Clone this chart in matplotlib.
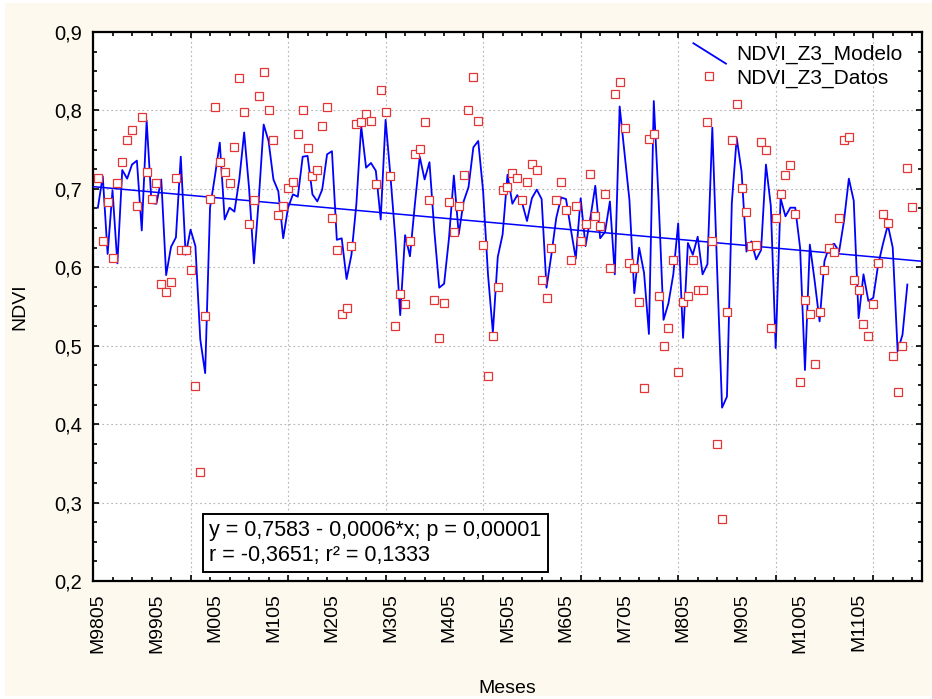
import numpy as np
import matplotlib.pyplot as plt
from matplotlib.patches import Rectangle
from matplotlib.lines import Line2D
from matplotlib.legend_handler import HandlerLine2D
from matplotlib.ticker import MultipleLocator, FuncFormatter
import matplotlib.transforms as mtransforms

plt.rcParams['font.family'] = ['Liberation Sans', 'DejaVu Sans']
plt.rcParams['font.size'] = 14

# --- NDVI mensual zona 3 (caso 1 = mayo 1998) ---
ndvi_datos = [
    0.714, 0.634, 0.683, 0.612, 0.708, 0.734, 0.762, 0.775, 0.678, 0.792,
    0.721, 0.687, 0.708, 0.579, 0.568, 0.581, 0.714, 0.622, 0.622, 0.596,
    0.449, 0.339, 0.538, 0.687, 0.805, 0.734, 0.721, 0.708, 0.754, 0.841,
    0.798, 0.655, 0.686, 0.818, 0.849, 0.800, 0.762, 0.667, 0.678, 0.701,
    0.709, 0.770, 0.800, 0.752, 0.716, 0.724, 0.780, 0.805, 0.663, 0.622,
    0.540, 0.548, 0.627, 0.783, 0.785, 0.795, 0.787, 0.706, 0.826, 0.798,
    0.716, 0.525, 0.566, 0.553, 0.634, 0.744, 0.751, 0.785, 0.686, 0.558,
    0.510, 0.555, 0.683, 0.645, 0.678, 0.718, 0.800, 0.843, 0.787, 0.629,
    0.461, 0.512, 0.575, 0.698, 0.703, 0.720, 0.714, 0.686, 0.709, 0.732,
    0.724, 0.584, 0.561, 0.625, 0.686, 0.709, 0.673, 0.609, 0.678, 0.634,
    0.655, 0.719, 0.666, 0.653, 0.693, 0.599, 0.821, 0.836, 0.778, 0.605,
    0.599, 0.556, 0.446, 0.764, 0.770, 0.563, 0.499, 0.523, 0.609, 0.466,
    0.556, 0.563, 0.609, 0.571, 0.571, 0.785, 0.634, 0.375, 0.279, 0.543,
    0.762, 0.808, 0.701, 0.670, 0.627, 0.629, 0.760, 0.749, 0.523, 0.663,
    0.693, 0.718, 0.731, 0.668, 0.454, 0.558, 0.540, 0.477, 0.543, 0.596,
    0.625, 0.619, 0.663, 0.762, 0.766, 0.584, 0.571, 0.528, 0.512, 0.553,
    0.606, 0.668, 0.657, 0.487, 0.441, 0.500, 0.727, 0.677,
]

ndvi_modelo = [
    0.676, 0.716, 0.617, 0.698, 0.605, 0.724, 0.713, 0.731, 0.736, 0.647,
    0.787, 0.682, 0.681, 0.712, 0.590, 0.626, 0.638, 0.741, 0.616, 0.648,
    0.627, 0.508, 0.465, 0.676, 0.716, 0.759, 0.661, 0.676, 0.671, 0.712,
    0.772, 0.701, 0.605, 0.687, 0.782, 0.761, 0.712, 0.697, 0.637, 0.676,
    0.693, 0.690, 0.741, 0.742, 0.693, 0.684, 0.699, 0.744, 0.748, 0.635,
    0.637, 0.585, 0.616, 0.680, 0.780, 0.727, 0.733, 0.723, 0.661, 0.788,
    0.716, 0.637, 0.539, 0.641, 0.614, 0.680, 0.741, 0.712, 0.734, 0.646,
    0.574, 0.579, 0.637, 0.717, 0.642, 0.684, 0.702, 0.753, 0.761, 0.697,
    0.591, 0.517, 0.613, 0.642, 0.718, 0.681, 0.692, 0.682, 0.659, 0.688,
    0.699, 0.687, 0.574, 0.616, 0.663, 0.689, 0.687, 0.648, 0.611, 0.688,
    0.627, 0.663, 0.704, 0.637, 0.645, 0.684, 0.591, 0.805, 0.746, 0.686,
    0.567, 0.625, 0.593, 0.515, 0.812, 0.684, 0.533, 0.554, 0.591, 0.656,
    0.510, 0.631, 0.616, 0.639, 0.591, 0.604, 0.778, 0.595, 0.421, 0.435,
    0.682, 0.765, 0.722, 0.620, 0.633, 0.610, 0.622, 0.731, 0.678, 0.497,
    0.688, 0.665, 0.676, 0.676, 0.625, 0.469, 0.629, 0.582, 0.531, 0.608,
    0.627, 0.630, 0.620, 0.659, 0.713, 0.685, 0.535, 0.591, 0.557, 0.561,
    0.603, 0.630, 0.654, 0.625, 0.493, 0.514, 0.578,
]

etiquetas_meses = ['M9805', 'M9905', 'M005', 'M105', 'M205', 'M305', 'M405',
                   'M505', 'M605', 'M705', 'M805', 'M905', 'M1005', 'M1105']
casos_etiquetas = [1, 13, 25, 37, 49, 61, 73, 85, 97, 109, 121, 133, 145, 157]

# ajuste lineal NDVI ~ x  (x = caso + 99)
b0 = 0.7583
b1 = -0.00056
x_desplaz = 99
r = -0.3651
r2 = 0.1333
p = 0.00001


def coma(v, dec):
    return f"{v:.{dec}f}".replace('.', ',')


class LineaDiagonal(HandlerLine2D):
    """muestra de la leyenda como trazo inclinado"""
    def create_artists(self, legend, orig_handle, xdescent, ydescent,
                       width, height, fontsize, trans):
        x0 = -xdescent - 0.1 * width
        x1 = -xdescent + 1.15 * width
        y0 = -ydescent + 1.15 * height
        y1 = -ydescent - 0.25 * height
        ln = Line2D([x0, x1], [y0, y1])
        self.update_prop(ln, orig_handle, legend)
        ln.set_marker('None')
        ln.set_transform(trans)
        return [ln]


casos_d = np.arange(1, len(ndvi_datos) + 1)
casos_m = np.arange(1, len(ndvi_modelo) + 1)

W, H = 932, 699
fig = plt.figure(figsize=(W / 100, H / 100), dpi=100, facecolor='white')
fig.patches.append(Rectangle((5 / W, 3 / H), 927 / W, 693 / H, transform=fig.transFigure,
                             facecolor='#fdf9ef', edgecolor='none', zorder=-10))

ax = fig.add_axes([93 / W, 1 - 581 / H, 829 / W, 549 / H])
ax.set_xlim(0, 170)
ax.set_ylim(0.2, 0.9)

x_rec = np.array([0, 170])
ax.plot(x_rec, b0 + b1 * (x_rec + x_desplaz), color='#0000ff', lw=1.1, zorder=3)
l_mod, = ax.plot(casos_m, ndvi_modelo, color='#0000ff', lw=1.3, zorder=4)
l_dat, = ax.plot(casos_d, ndvi_datos, ls='none', marker='s', ms=5.5, mfc='white',
                 mec='#e33535', mew=0.9, zorder=5)

ax.xaxis.set_major_locator(MultipleLocator(20))
ax.xaxis.set_minor_locator(MultipleLocator(4))
ax.yaxis.set_major_locator(MultipleLocator(0.1))
ax.yaxis.set_minor_locator(MultipleLocator(0.025))
ax.xaxis.set_major_formatter(FuncFormatter(lambda v, pos: ''))
ax.yaxis.set_major_formatter(FuncFormatter(lambda v, pos: coma(v, 1)))
ax.tick_params(which='both', direction='in', top=True, right=True, width=1.2)
ax.tick_params(which='major', length=4.5)
ax.tick_params(which='minor', length=3)
ax.tick_params(axis='y', pad=8, labelsize=14.5)
ax.grid(True, which='major', ls=(0, (1.5, 2.5)), color='#b4b4b4', lw=0.8)
for s in ax.spines.values():
    s.set_linewidth(1.6)

# rotulos de meses cada 12 casos
trans = mtransforms.blended_transform_factory(ax.transData, ax.transAxes)
for c, txt in zip(casos_etiquetas, etiquetas_meses):
    ax.text(c, -0.022, txt, transform=trans, rotation=90, ha='center', va='top', fontsize=14)

ax.set_ylabel('NDVI', fontsize=14)
ax.yaxis.set_label_coords(-0.078, 0.5)
ax.set_xlabel('Meses', fontsize=14)
ax.xaxis.set_label_coords(0.5, -0.18)

texto = (f"y = {coma(b0, 4)} - {coma(abs(b1), 4)}*x; p = {coma(p, 5)}\n"
         f"r = {coma(r, 4)}; r\u00b2 = {coma(r2, 4)}")
ax.text(0.1405, 0.028, texto, transform=ax.transAxes, ha='left', va='bottom',
        fontsize=15.5, linespacing=1.2, zorder=6,
        bbox=dict(boxstyle='square,pad=0.3', facecolor='white', edgecolor='black', lw=1.4))

ax.legend([l_mod, l_dat], ['NDVI_Z3_Modelo', 'NDVI_Z3_Datos'],
          handler_map={l_mod: LineaDiagonal()},
          loc='upper left', bbox_to_anchor=(696 / W, 1 - 45 / H), bbox_transform=fig.transFigure,
          frameon=False, fontsize=15, handlelength=1.25, handletextpad=0.67,
          borderpad=0, borderaxespad=0, labelspacing=0.2)

fig.savefig('out.png', dpi=100, facecolor=fig.get_facecolor())
